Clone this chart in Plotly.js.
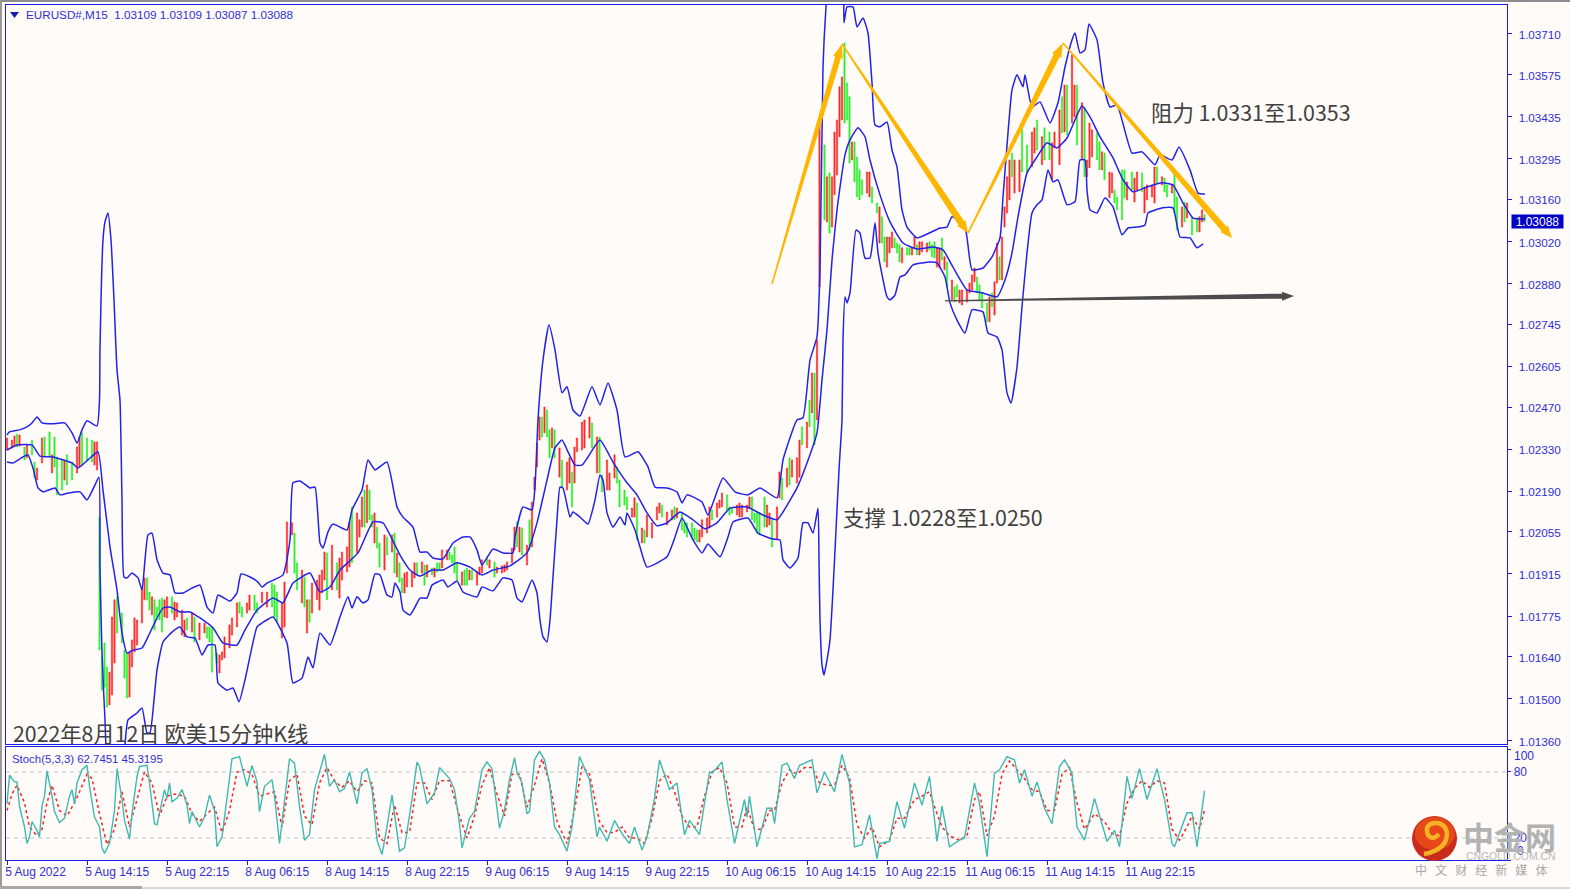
<!DOCTYPE html>
<html><head><meta charset="utf-8">
<script src="https://cdn.plot.ly/plotly-3.0.1.min.js"></script>
<style>
html,body{margin:0;padding:0;background:#fffbf9;overflow:hidden}
#chart{position:absolute;left:0;top:0;width:1570px;height:889px}
.edge{position:absolute;z-index:5}
</style></head><body>
<div id="chart"></div>
<div class="edge" style="left:0;top:0;width:1570px;height:2px;background:#8c8c8c"></div>
<div class="edge" style="left:0;top:0;width:2px;height:889px;background:#9a9a9a"></div>
<div class="edge" style="left:0;top:886px;width:142px;height:3px;background:#a8a8a8"></div>
<div class="edge" style="left:142px;top:887px;width:1428px;height:2px;background:#d8d8d8"></div>
<script>
// All prices below are in points above 1.00000 (2360 means 1.02360). Bars are numbered from 0 (5 Aug 2022, M15).
const barIdx=[0,2,3,4,5,7,8,10,11,12,14,15,17,18,19,20,22,23,24,26,28,29,30,32,34,35,36,
37,38,39,40,41,42,43,44,46,47,48,49,50,51,52,54,55,56,57,58,59,60,61,62,63,64,66,67,68,70,71,72,74,75,77,79,80,81,82,84,85,86,87,89,90,92,93,94,96,97,99,100,102,104,106,107,108,110,111,112,114,115,116,118,119,120,121,122,124,125,126,127,128,130,132,133,134,136,137,138,140,141,142,143,144,145,146,147,148,149,151,152,154,155,156,157,
158,159,160,162,163,164,166,167,168,170,171,172,173,174,176,177,178,179,180,182,183,184,185,186,188,189,190,192,193,195,196,198,199,200,202,203,204,205,206,208,209,210,211,212,213,214,215,216,217,218,219,221,222,224,225,226,227,228,230,231,233,234,236,237,238,240,241,243,244,245,247,248,250,251,252,254,255,256,258,260,261,262,264,266,267,268,270,271,272,274,275,276,277,278,280,281,282,284,285,286,288,289,290,292,293,294,296,297,298,299,300,301,303,304,305,306,308,309,310,312,313,314,316,317,318,320,321,322,323,324,325,
327,328,329,330,331,332,333,334,335,336,337,338,339,340,341,342,344,345,346,348,349,350,351,352,353,354,355,356,357,358,360,361,362,363,364,365,366,368,369,370,371,372,373,374,375,376,378,379,380,381,382,384,385,386,387,388,389,390,392,393,394,395,396,397,398,399,400,401,402,403,405,406,408,410,411,412,414,415,417,418,419,421,422,423,424,426,427,428,430,431,432,433,434,436,437,438,439,441,442,443,444,446,447,448,450,451,452,454,455,456,458,459,460,462,463,464,466,467,468,470,471,472,474,476,477,478,479];
const barOpen=[2327,2334,2340,2380,2340,2337,2301,2360,2287,2227,2284,2370,2387,2251,2370,2304,2294,2227,2311,2287,2251,2271,2384,2367,2360,2277,2261,
2104,1639,1686,1606,1480,1513,1619,1839,1785,1662,1652,1506,1606,1656,1679,1752,1829,1902,1855,1779,1829,1805,1829,1835,1772,1769,1839,1762,1772,1712,1706,1769,1722,1772,1696,1719,1739,1739,1739,1652,1586,1629,1636,1669,1712,1739,1822,1805,1785,1795,1845,1819,1819,1805,1885,1878,1855,1702,1739,1918,2045,2051,1952,1819,1905,1719,1829,1785,1829,1795,1852,1895,1985,1862,1952,1835,1895,1922,1938,2138,1985,2038,2071,2194,2085,2194,2111,2018,2071,2018,1928,2038,1988,2051,1905,1952,
1902,1852,1872,1872,1902,1952,1918,1945,1905,1935,1905,1952,1952,1935,1962,1988,1978,2005,1955,1878,1928,1935,1895,1928,1878,1912,1918,1968,1935,1955,1918,1918,1922,1928,1952,1995,2088,1988,2068,1945,2095,2005,2194,2271,2360,2437,2384,2460,2394,2334,2394,2237,2294,2194,2217,2254,2217,2321,2327,2334,2367,2417,2251,2370,2244,2194,2194,2234,2271,2227,2194,2171,2104,2104,2151,2018,2061,2038,2035,2095,2118,2144,2078,2095,2138,2101,2121,2085,2085,2085,2068,2061,2021,2038,2051,2068,2128,2104,2134,2138,2178,2138,2134,2111,2104,2104,2121,2134,2171,2118,2118,2118,2171,2071,2078,2095,2028,2168,2234,2204,2301,2237,2217,2237,2404,2334,2493,2450,2583,2427,2869,
3341,3085,3248,3068,3175,3241,3368,3424,3680,3547,3501,3291,3351,3301,3258,3225,3181,3168,3201,3148,3015,3102,3035,2935,2982,2999,3032,3015,3009,2949,2999,2999,2975,2999,3009,2975,2985,2985,3019,3009,3019,2935,2932,3032,2926,2952,2826,2869,2876,2816,2809,2819,2849,2859,2886,2902,2876,2852,2816,2753,2849,2776,2882,2969,2892,3068,3115,3158,3314,3181,3185,3407,3341,3268,3314,3424,3275,3398,3384,3225,3331,3275,3501,3384,3540,3414,3434,3540,3291,3467,3235,3265,3301,3381,3351,3258,3314,3165,3181,3191,3168,3258,3258,3158,3251,3151,3191,3248,3115,3158,3168,3148,3268,3208,3231,3208,3181,3248,3168,3068,3151,3098,3102,3098,3052,3085,3109];
const barClose=[2367,2360,2374,2337,2377,2294,2344,2311,2234,2267,2367,2304,2304,2311,2271,2178,2194,2294,2211,2227,2337,2370,2277,2294,2287,2354,2354,
1662,1529,1539,1473,1589,1772,1829,1719,1686,1569,1503,1652,1696,1769,1762,1868,1902,1829,1795,1839,1729,1772,1762,1722,1829,1839,1785,1822,1819,1795,1762,1729,1785,1689,1752,1752,1702,1689,1589,1619,1646,1656,1706,1746,1769,1819,1785,1772,1819,1845,1795,1785,1855,1855,1805,1772,1755,1819,1888,2088,2085,1918,1862,1928,1805,1829,1755,1885,1895,1912,1928,1988,1829,2011,1862,1968,1988,2005,2088,1952,2118,2095,2171,2071,2211,2095,2071,2118,2001,1938,2045,1978,2045,1918,1985,1888,
1852,1918,1922,1922,1952,1912,1955,1878,1945,1912,1935,1922,1928,1995,1995,1962,1952,1918,1895,1922,1878,1878,1928,1895,1922,1938,1962,1945,1962,1905,1938,1942,1945,1955,2001,2071,2005,2071,1978,2011,1995,2154,2237,2350,2437,2370,2470,2370,2301,2400,2301,2334,2201,2287,2301,2138,2337,2367,2420,2427,2437,2334,2370,2251,2188,2294,2251,2311,2217,2138,2144,2128,2134,2168,2028,2068,2018,2111,2085,2138,2151,2104,2121,2128,2095,2134,2061,2051,2038,2038,2028,2021,2061,2095,2101,2138,2095,2151,2161,2184,2128,2111,2118,2144,2151,2144,2144,2171,2095,2085,2051,2045,2071,2144,2118,2005,2138,2254,2161,2267,2211,2294,2301,2360,2344,2420,2404,2583,2344,2693,3414,
3092,3235,3048,3235,3384,3424,3534,3567,3414,3424,3281,3351,3218,3168,3158,3175,3251,3251,3148,3115,3135,3015,2952,3035,3035,3052,2999,2982,2952,2999,2975,2975,2999,3035,2975,3019,3019,3015,2992,2969,2965,2999,2999,2959,2969,2869,2892,2819,2836,2859,2859,2859,2882,2909,2932,2849,2826,2799,2753,2836,2803,2886,3015,2892,3035,3135,3235,3291,3235,3291,3291,3251,3248,3384,3398,3324,3368,3291,3291,3348,3384,3457,3381,3540,3374,3640,3540,3341,3481,3235,3291,3414,3391,3291,3258,3318,3225,3251,3248,3148,3125,3092,3165,3218,3191,3231,3251,3185,3201,3208,3208,3268,3215,3235,3185,3168,3208,3115,3058,3135,3085,3148,3042,3052,3102,3125,3087];

const upperIdx=[0,1,5,8,10,12,14,18,23,26,28,30,32,36,37,37.2,38.4,39.2,40.4,41.6,42.8,44,45.2,46,46.8,48,50,52.4,54,55.2,56.4,58,60,62.4,65.2,67.2,70.4,74,77.2,80,82.4,84.4,89.2,92,93.6,97.2,100.4,102,104,110.4,113.2,114.4,117.2,121.2,123.2,125.2,126.4,128.4,130.4,136,138,142,144.4,147.2,152,156,158.4,162.4,165.2,168,170.4,174.4,178.4,182.4,185.2,188,190,194.4,198.4,202.4,203.2,206.4,210,211.2,212.4,214.4,216.8,219.2,222,224,226.4,229.2,234,237.2,240.4,244,247.2,252.4,256.4,259.2,264,268,270,272,278,280.4,286.4,291.2,296.4,301.2,308,310.4,316,318.4,321.2,324,325.2,326.4,327.6,328.8,334,334.8,336,338.4,340,342.4,344.4,346,347.2,349.2,352,354,356,358,360,364,373.2,376,378,383.2,386,390.4,394,397.2,398.4,400.4,402,404,406.4,407.2,410,413.2,417.2,420.4,423.2,426,427.2,429.2,431.2,432.8,436,438.4,441.2,444,450,454,459.2,461.2,466,468.8,473.2,476.4,479.2];
const upperBand=[2377,2387,2394,2404,2417,2437,2417,2414,2417,2384,2350,2394,2424,2407,2493,2660,3025,3085,3115,3025,2826,2593,2493,2161,1905,1902,1918,1902,1862,1962,2045,2051,1962,1918,1912,1852,1852,1868,1878,1805,1785,1845,1825,1852,1915,1905,1888,1872,1885,1912,2028,2218,2224,2201,2204,2018,2001,2055,2081,2061,2128,2194,2294,2261,2287,2138,2104,2071,1988,1988,1968,1965,2018,2038,2038,1995,1945,1998,1985,1985,2038,2138,2128,2204,2427,2626,2743,2660,2517,2537,2460,2440,2537,2477,2550,2460,2304,2321,2271,2204,2201,2188,2151,2178,2154,2111,2234,2188,2178,2201,2168,2294,2427,2434,2626,2703,2926,3600,3800,3923,3923,3747,3800,3800,3733,3763,3713,3547,3407,3401,3417,3324,3268,3125,3068,3032,3065,3068,3102,3068,2926,2932,2969,3032,3168,3381,3524,3574,3534,3574,3467,3484,3414,3481,3600,3690,3713,3647,3657,3743,3690,3547,3467,3474,3314,3318,3275,3308,3291,3334,3258,3181,3178];

const middleIdx=[0,4,10,13.2,18.4,26,28.4,32.4,36.4,38.4,41.2,44,46,48,50.4,54,56.4,59.2,62.4,65.2,69.2,73.2,77.2,82.4,86.4,92,95.2,100,106.4,110.4,114.4,121.2,125.2,129.2,133.2,140.4,146.4,150.4,157.2,161.2,165.2,170,174.4,180,185.2,190,194.4,201.2,208,212,216,219.2,222,224.4,227.2,230,232.4,237.2,242.4,248,252,256,260,264,269.2,274.4,279.2,284,289.2,296,302.4,308,310.4,316,320,324,326,328,330,332,333.2,335.2,337.2,340.4,343.2,345.2,349.2,353.2,358.4,364,370.4,374.4,378.4,384,390.4,396,399.2,402,404.4,408,412,416,420,424,427.2,430,433.2,437.2,442.4,446.4,450.4,456,462,466.4,470.4,474.4,479.2];
const middleBand=[2327,2344,2344,2307,2304,2284,2267,2294,2321,2194,2005,1862,1719,1652,1662,1669,1706,1755,1802,1805,1789,1789,1769,1736,1686,1679,1729,1795,1835,1819,1885,1918,1855,1872,1928,1985,2088,2085,1978,1928,1908,1928,1928,1952,1938,1912,1928,1942,1985,2085,2227,2334,2360,2321,2277,2277,2304,2360,2287,2218,2178,2118,2075,2085,2121,2095,2065,2085,2134,2138,2111,2095,2121,2201,2284,2384,2560,2726,2959,3125,3201,3308,3358,3398,3368,3291,3175,3085,3015,2995,3002,2992,2935,2859,2849,2836,2892,2982,3102,3248,3301,3348,3331,3364,3424,3471,3434,3368,3298,3225,3185,3201,3215,3208,3148,3098,3095];

const lowerIdx=[0,2.4,6.4,8.4,10.4,12.4,14.4,19.2,21.2,24.4,29.2,32,35.2,36.8,37.2,38,39.2,40.4,46.8,47.2,48.4,52,54,56,57.2,58.8,60,62.4,66,69.2,72,75.2,78,80.4,83.2,84.4,88,90.4,92.8,95.2,100,102,106.4,112,114.4,118,120.4,122.4,125.2,129.2,133.2,136.4,138,140,142.4,144.4,147.2,149.2,152,154,155.2,157.2,158.4,161.2,163.2,165.2,168,170,174.4,176.4,180,182.4,188,190,194.4,198.4,202,204,206,210,212,213.2,214.4,216,217.2,218.4,220,221.2,222.4,225.2,226.4,229.2,232.4,235.2,237.2,238.4,240,242.4,245.2,247.2,248,251.2,253.2,256,264,267.2,270,274.4,278,280.4,285.2,288.4,290.4,296.4,300.4,306.4,309.2,310.4,313.2,316.4,318.4,320.4,322.4,324.4,324.8,325.2,326,326.8,328,329.2,330.4,331.6,332.8,334,334.4,335.2,336,337.2,339.6,341.2,343.2,345.2,347.2,348.4,352,353.2,355.2,357.2,359.2,362.4,369.2,372,375.2,377.2,380,383.2,386,390.4,392.4,396,398,400,401.6,404,406,408,410,412,414,416.4,418.4,420.4,424,427.2,429.2,431.2,432,433.2,436,439.2,442.4,446,448.4,452.4,455.2,456.4,462.4,466.4,469.2,473.2,476,478.4];
const lowerBand=[2287,2284,2304,2311,2267,2201,2188,2201,2178,2184,2188,2161,2211,2237,1938,1652,1430,1297,1297,1347,1430,1453,1470,1387,1387,1496,1596,1689,1722,1739,1706,1702,1646,1679,1679,1553,1529,1536,1490,1563,1739,1752,1772,1686,1553,1569,1639,1603,1719,1679,1772,1839,1802,1839,1819,1829,1915,1912,1845,1839,1885,1855,1795,1779,1805,1835,1835,1878,1895,1872,1892,1855,1839,1872,1859,1902,1895,1835,1822,1895,1852,1762,1706,1689,1762,1905,2095,2204,2201,2104,2121,2104,2081,2161,2244,2227,2118,2071,2104,2078,2118,2061,2005,1938,1972,2038,2101,2028,1985,2015,1972,2038,2088,2101,2051,2031,2028,1962,1935,1968,2085,2085,2051,2134,1962,1762,1613,1579,1629,1696,1862,2061,2261,2427,2693,2836,2816,2849,3058,3048,2965,2965,3082,2982,2836,2826,2842,2902,2909,2942,2952,2949,2902,2816,2759,2716,2793,2786,2716,2703,2660,2517,2483,2603,2803,2982,3115,3142,3158,3258,3218,3225,3142,3152,3291,3291,3191,3125,3115,3165,3135,3042,3065,3068,3075,3115,3132,3132,3035,3032,2999,3012];

const stochKIdx=[0,1,3,4,5,7,8,9,10,12,13,14,15,16,18,19,21,23,25,26,27,28,30,32,33,35,37,38,39,41,43,44,46,47,49,50,52,53,56,57,59,60,63,64,65,66,68,70,72,73,74,77,79,81,83,84,86,88,90,93,96,98,100,101,103,106,107,109,111,113,115,117,119,121,123,125,127,129,131,133,135,137,140,142,144,146,148,150,152,154,157,159,162,164,165,168,171,173,177,179,181,182,185,187,190,192,194,197,199,201,203,204,206,208,209,211,213,215,217,219,221,224,226,229,233,236,237,240,243,246,249,251,254,256,259,261,265,268,271,273,277,281,282,286,288,291,295,296,297,300,304,306,307,310,312,315,317,322,324,327,331,334,337,339,342,345,348,349,353,356,359,363,366,369,372,374,377,381,383,387,389,392,395,397,400,403,405,407,410,412,415,418,421,423,426,428,431,435,440,443,445,448,450,453,456,460,463,466,467,472,474,476,479];
const stochK=[51,77,71,71,49,30,15,21,35,27,21,49,58,81,58,44,34,38,58,64,51,70,82,86,67,39,30,11,6,15,45,83,55,36,19,42,76,85,86,70,33,32,64,56,70,53,56,64,50,33,44,30,39,59,45,12,21,58,92,94,67,86,71,44,67,73,58,15,51,92,88,49,18,23,64,80,96,67,73,62,65,80,51,79,83,64,18,5,30,59,8,11,55,89,85,51,61,84,74,64,33,11,38,44,82,89,83,29,45,73,93,80,70,42,44,91,99,91,70,30,23,8,30,94,73,21,30,17,36,24,15,30,9,21,56,91,64,70,23,36,23,80,79,89,55,15,55,39,58,12,47,47,33,86,88,74,86,91,61,80,62,96,70,12,14,41,1,15,17,53,29,70,50,76,17,49,12,18,20,70,51,3,79,82,94,91,70,82,58,71,47,33,85,91,79,30,18,56,17,27,12,76,56,83,55,83,55,15,12,43,43,12,62.7451];
const stochDIdx=[0,2,4,7,9,12,14,16,18,21,24,27,29,32,34,37,40,43,46,49,52,55,58,61,64,67,71,74,77,80,83,86,89,92,95,98,101,104,107,110,113,116,119,122,125,128,131,134,137,140,143,146,149,152,155,158,161,164,167,170,173,177,181,184,187,190,193,196,199,202,205,208,211,214,217,220,224,227,230,233,237,240,243,246,249,252,255,258,261,264,267,270,273,276,279,282,285,288,291,294,296,299,302,305,307,310,313,316,319,322,325,328,331,334,337,340,343,346,349,353,356,359,363,366,369,372,374,377,381,384,387,389,392,395,398,401,404,407,410,413,416,419,422,425,428,431,435,439,442,445,448,451,454,457,460,463,466,469,472,474,477,479];
const stochD=[45,60,68,52,30,22,28,52,68,45,40,52,62,78,74,42,14,28,62,30,55,80,70,40,58,60,58,42,35,42,48,25,45,80,82,78,58,60,62,30,72,78,40,32,70,84,72,66,72,62,72,70,20,15,50,25,25,70,70,55,72,72,40,20,40,68,84,60,40,78,78,48,68,92,70,35,15,45,85,78,35,25,25,30,20,20,15,38,72,78,62,40,30,30,58,80,84,70,30,30,48,28,28,45,45,70,82,78,84,84,70,68,68,86,75,32,20,30,12,18,38,38,55,58,62,42,30,22,18,22,55,62,22,40,78,90,82,74,64,62,45,45,78,84,52,28,42,35,24,22,52,65,72,66,72,70,28,18,30,40,28,45.3195];

const priceTicks=[1.0371,1.03575,1.03435,1.03295,1.0316,1.0302,1.0288,1.02745,1.02605,1.0247,1.0233,1.0219,1.02055,1.01915,1.01775,1.0164,1.015,1.0136];
const priceTickText=['1.03710','1.03575','1.03435','1.03295','1.03160','1.03020','1.02880','1.02745','1.02605','1.02470','1.02330','1.02190','1.02055','1.01915','1.01775','1.01640','1.01500','1.01360'];
const timeTicks=[0,32,64,96,128,160,192,224,256,288,320,352,384,416,448];
const timeTickText=['5 Aug 2022','5 Aug 14:15','5 Aug 22:15','8 Aug 06:15','8 Aug 14:15','8 Aug 22:15','9 Aug 06:15','9 Aug 14:15','9 Aug 22:15','10 Aug 06:15','10 Aug 14:15','10 Aug 22:15','11 Aug 06:15','11 Aug 14:15','11 Aug 22:15'];
// trend arrows: [bar, points, bar, points]
const trendUp1=[306,2879,334,3677], trendDown1=[334,3677,384.4,3048], trendUp2=[384.4,3048,422.4,3680], trendDown2=[422.4,3680,490,3032], supportArrow=[375.2,2823,514.8,2839];

const P=v=>1+v/1e5;
const BLUE='#1c1ce6', TXT='#2f2fd6', BG='#fffbf9', ORANGE='#ffb600';
const mono='"Liberation Sans",Arial,sans-serif', cjk='"Noto Sans CJK SC","Noto Sans",sans-serif';
const xp=v=>(v-6)/1501, yp=v=>(860-v)/855;
const bandLine={color:'#2222ea',width:1.5,shape:'spline',smoothing:0.45};

const traces=[
 {type:'candlestick',x:barIdx,open:barOpen.map(P),close:barClose.map(P),
  high:barOpen.map((o,i)=>P(Math.max(o,barClose[i]))),low:barOpen.map((o,i)=>P(Math.min(o,barClose[i]))),
  increasing:{line:{color:'#ff2a2a',width:0.6},fillcolor:'#ff2a2a'},decreasing:{line:{color:'#2cf02c',width:0.6},fillcolor:'#2cf02c'},
  whiskerwidth:0,xaxis:'x',yaxis:'y',hoverinfo:'skip'},
 {type:'scatter',mode:'lines',x:upperIdx,y:upperBand.map(P),line:bandLine,xaxis:'x',yaxis:'y',hoverinfo:'skip'},
 {type:'scatter',mode:'lines',x:middleIdx,y:middleBand.map(P),line:bandLine,xaxis:'x',yaxis:'y',hoverinfo:'skip'},
 {type:'scatter',mode:'lines',x:lowerIdx,y:lowerBand.map(P),line:bandLine,xaxis:'x',yaxis:'y',hoverinfo:'skip'},
 {type:'scatter',mode:'lines',x:stochDIdx,y:stochD,line:{color:'#ff2020',width:1.5,dash:'3px,3px'},xaxis:'x2',yaxis:'y2',hoverinfo:'skip'},
 {type:'scatter',mode:'lines',x:stochKIdx,y:stochK,line:{color:'#3fbab0',width:1.4},xaxis:'x2',yaxis:'y2',hoverinfo:'skip'}
];

// tapered arrow polygon: widths given in screen pixels, 2.5 px per bar, 0.30085 px per point
function arrow(a,w0,w1,hl,hw,color){
 const sx=2.5,sy=0.30085,X0=a[0]*sx,Y0=a[1]*sy,X1=a[2]*sx,Y1=a[3]*sy;
 const L=Math.hypot(X1-X0,Y1-Y0),ux=(X1-X0)/L,uy=(Y1-Y0)/L,nx=-uy,ny=ux;
 const bx=X1-ux*hl,by=Y1-uy*hl;
 const pts=[[X0+nx*w0/2,Y0+ny*w0/2],[bx+nx*w1/2,by+ny*w1/2],[bx+nx*hw/2,by+ny*hw/2],[X1,Y1],[bx-nx*hw/2,by-ny*hw/2],[bx-nx*w1/2,by-ny*w1/2],[X0-nx*w0/2,Y0-ny*w0/2]];
 const path='M '+pts.map(p=>(p[0]/sx)+' '+P(p[1]/sy)).join(' L ')+' Z';
 return {type:'path',xref:'x',yref:'y',path:path,fillcolor:color,line:{width:0},layer:'above'};
}
function paperPath(list){return list.map(c=>typeof c==='string'?c:xp(c[0])+' '+yp(c[1])).join(' ');}

const shapes=[
 {type:'line',xref:'paper',x0:0,x1:1,yref:'y2',y0:80,y1:80,line:{color:'#c4c4c4',width:1,dash:'4px,4px'},layer:'below'},
 {type:'line',xref:'paper',x0:0,x1:1,yref:'y2',y0:20,y1:20,line:{color:'#c4c4c4',width:1,dash:'4px,4px'},layer:'below'},
 arrow(trendUp1,1.5,6,14,10,ORANGE),arrow(trendDown1,1.5,7,12,10,ORANGE),arrow(trendUp2,1.5,6.5,14,10,ORANGE),arrow(trendDown2,1.5,6.5,12,10,ORANGE),
 arrow(supportArrow,1.2,5,12,9,'#4c4c4c'),
 {type:'path',xref:'paper',yref:'paper',path:paperPath(['M',[10,12],'L',[19,12],'L',[14.5,18],'Z']),fillcolor:'#1c1ca8',line:{width:0}},
 // watermark logo
 {type:'circle',xref:'paper',yref:'paper',x0:xp(1412),x1:xp(1457),y0:yp(861),y1:yp(816),fillcolor:'#c92c1a',line:{width:0}},
 {type:'circle',xref:'paper',yref:'paper',x0:xp(1415),x1:xp(1455),y0:yp(850),y1:yp(817),fillcolor:'#e6481a',line:{width:0}},
 {type:'path',xref:'paper',yref:'paper',path:paperPath(['M',[1424,854],'Q',[1447,850],'',[1447,833],'Q',[1445,822],'',[1434,823],'Q',[1424,825],'',[1428,835],'Q',[1433,841],'',[1439,834]]),fillcolor:'rgba(0,0,0,0)',line:{color:'#f5b323',width:4.5}}
];

const ann=(x,y,text,size,color,font,extra)=>Object.assign({xref:'paper',yref:'paper',x:xp(x),y:yp(y),text:text,showarrow:false,xanchor:'left',yanchor:'middle',borderpad:0,font:{family:font,size:size,color:color}},extra||{});
const annotations=[
 ann(24.5,14.5,'EURUSD#,M15\u00a0\u00a01.03109 1.03109 1.03087 1.03088',11.7,TXT,mono),
 ann(11,759,'Stoch(5,3,3) 62.7451 45.3195',11.4,TXT,mono),
 ann(1150,112,'阻力 1.0331至1.0353',21.4,'#404040',cjk),
 ann(842,516,'支撑 1.0228至1.0250',21.4,'#404040',cjk),
 ann(12,732,'2022年8月12日 欧美15分钟K线',21.3,'#404040',cjk),
 ann(1511,221,'1.03088',12,'#ffffff',mono,{bgcolor:'#0000c8',width:51,height:13,align:'center'}),
 ann(1513,756,'100',12,TXT,mono),
 ann(1516,851,'0',12,TXT,mono),
 ann(1462,835,'中金网',31,'#b2b2b2',cjk,{font:{family:cjk,size:31,color:'#b2b2b2',weight:700}}),
 ann(1465,856,'CNGOLD.COM.CN',10.4,'#b8b8b8',mono),
 ann(1414,870,'中\u00a0\u00a0\u00a0文\u00a0\u00a0\u00a0财\u00a0\u00a0\u00a0经\u00a0\u00a0\u00a0新\u00a0\u00a0\u00a0媒\u00a0\u00a0\u00a0体',12,'#a8a8a8',cjk)
];

const layout={
 width:1570,height:889,margin:{l:6,r:63,t:5,b:29,pad:0},paper_bgcolor:BG,plot_bgcolor:BG,showlegend:false,hovermode:false,dragmode:false,
 boxgap:0.3,
 xaxis:{domain:[0,1],range:[-0.4,600],anchor:'y',showline:true,mirror:true,linecolor:BLUE,linewidth:1.3,showgrid:false,zeroline:false,ticks:'',showticklabels:false,rangeslider:{visible:false},fixedrange:true},
 yaxis:{domain:[116/855,1],range:[1.0135,1.03806],anchor:'x',side:'right',showline:true,mirror:true,linecolor:BLUE,linewidth:1.3,showgrid:false,zeroline:false,
  tickmode:'array',tickvals:priceTicks,ticktext:priceTickText,ticks:'outside',ticklen:4,tickcolor:BLUE,tickwidth:1,ticklabelstandoff:4,ticklabelshift:1,tickfont:{family:mono,size:11.7,color:TXT},fixedrange:true},
 xaxis2:{domain:[0,1],range:[-0.4,600],anchor:'y2',showline:true,mirror:true,linecolor:BLUE,linewidth:1.3,showgrid:false,zeroline:false,
  tickmode:'array',tickvals:timeTicks,ticktext:timeTickText,tickangle:0,ticks:'outside',ticklen:4,tickcolor:BLUE,tickwidth:1,ticklabelposition:'outside right',ticklabelshift:-3,tickfont:{family:mono,size:12,color:TXT},fixedrange:true},
 yaxis2:{domain:[0,113/855],range:[0,102.7],anchor:'x2',side:'right',showline:true,mirror:true,linecolor:BLUE,linewidth:1.3,showgrid:false,zeroline:false,
  tickmode:'array',tickvals:[100,80,20,0],ticktext:['','80','20',''],ticks:'outside',ticklen:3,tickcolor:BLUE,tickwidth:1,tickfont:{family:mono,size:12,color:TXT},fixedrange:true},
 shapes:shapes,annotations:annotations
};
Plotly.newPlot('chart',traces,layout,{displayModeBar:false,staticPlot:true});
</script></body></html>
